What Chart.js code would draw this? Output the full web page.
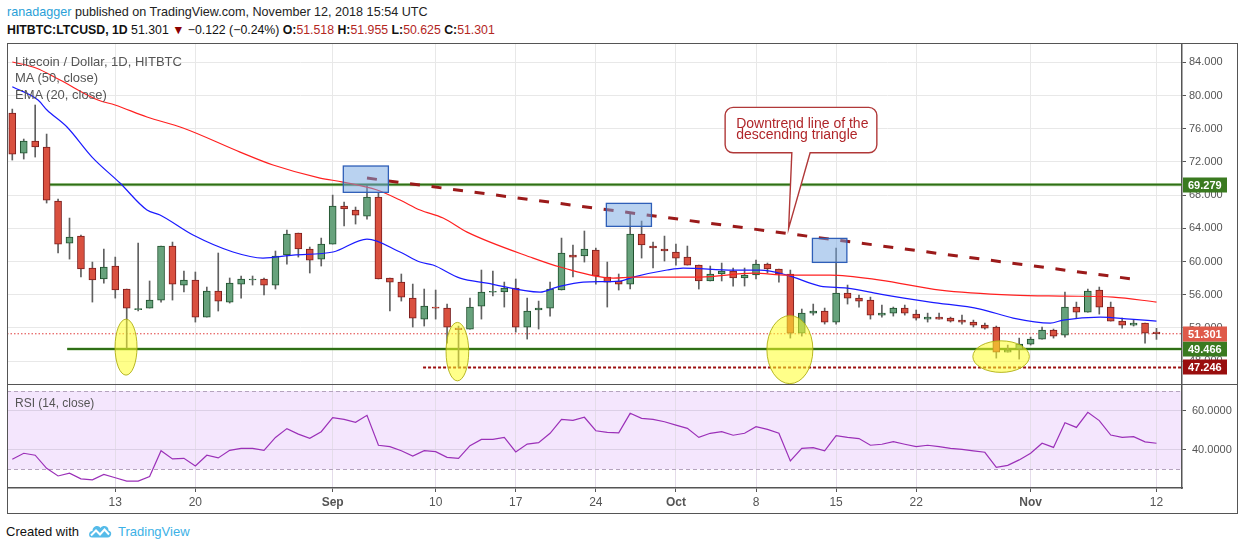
<!DOCTYPE html>
<html><head><meta charset="utf-8">
<script src="https://cdn.jsdelivr.net/npm/chart.js@4.4.0/dist/chart.umd.min.js"></script>
<style>
html,body{margin:0;padding:0;background:#fff;}
#wrap{position:relative;width:1240px;height:550px;overflow:hidden;font-family:'Liberation Sans',Arial,sans-serif;}
.abs{position:absolute;white-space:nowrap;}
canvas{position:absolute;}
#frame{position:absolute;left:7px;top:43px;width:1229px;height:469px;border:1px solid #555;pointer-events:none;}
#sep{position:absolute;left:7px;top:384px;width:1230px;height:1px;background:#555;pointer-events:none;}
.leg{position:absolute;left:15px;font-size:13px;color:#555;line-height:16px;white-space:nowrap;}
.b{font-weight:bold;}
.r{color:#b3261e;}
</style></head>
<body>
<div id="wrap">
  <canvas id="main" width="1230" height="341" style="left:7px;top:43px;width:1230px;height:341px"></canvas>
  <canvas id="rsi" width="1230" height="129" style="left:7px;top:384px;width:1230px;height:129px"></canvas>
  <div id="frame"></div>
  <div id="sep"></div>
  <div class="abs" style="left:7px;top:3px;font-size:12.6px;line-height:18px;color:#222"><span style="color:#2a9fd8">ranadagger</span> published on TradingView.com, November 12, 2018 15:54 UTC</div>
  <div class="abs" style="left:7px;top:21px;font-size:12.3px;line-height:18px;color:#111"><span class="b">HITBTC:LTCUSD, 1D</span> 51.301 <span style="color:#8b0000">&#9660;</span> &minus;0.122 (&minus;0.24%) <span class="b">O:</span><span class="r">51.518</span> <span class="b">H:</span><span class="r">51.955</span> <span class="b">L:</span><span class="r">50.625</span> <span class="b">C:</span><span class="r">51.301</span></div>
  <div class="leg" style="top:54px">Litecoin / Dollar, 1D, HITBTC</div>
  <div class="leg" style="top:70px">MA (50, close)</div>
  <div class="leg" style="top:87px">EMA (20, close)</div>
  <div class="leg" style="top:395px;font-size:12px">RSI (14, close)</div>
  <div class="abs" style="left:6px;top:523px;font-size:13px;line-height:18px;color:#111">Created with</div>
  <svg class="abs" style="left:88px;top:524px" width="24" height="14" viewBox="0 0 24 14">
    <path d="M4 13.5 C0 13.5 0 7 4.5 7 C4.5 1.5 11 0.5 12.5 4 C15 0.5 21 2 20.5 6.5 C24.5 7 24 13.5 19.5 13.5 Z" fill="#55bbe9"/>
    <polyline points="3,11.5 8,6.5 12,10.5 16.5,5.5 21,10.5" stroke="#fff" stroke-width="2" fill="none"/>
  </svg>
  <div class="abs" style="left:118px;top:523px;font-size:13px;line-height:18px;color:#3cb1e6">TradingView</div>
</div>
<script>
// ---------- data ----------
const firstDay = '2018-08-04';
const xTickDays   = [9, 16, 28, 37, 44, 51, 58, 65, 72, 79, 89, 100];
const xTickLabels = ['13','20','Sep','10','17','24','Oct','8','15','22','Nov','12'];
const monthLabels = ['Sep','Oct','Nov'];
const priceTicks  = [48, 52, 56, 60, 64, 68, 72, 76, 80, 84];
const rsiTicks    = [40, 60];

const openP  = [77.89,73.07,74.52,73.80,67.29,62.23,63.07,59.22,57.90,59.46,
  56.69,54.20,54.40,55.36,61.87,57.17,57.78,53.31,56.45,55.12,
  57.29,57.78,57.90,57.17,60.79,63.43,61.51,60.30,62.11,66.69,
  66.21,65.48,67.77,58.02,57.53,55.60,53.07,54.52,54.40,51.99,
  51.87,54.64,56.30,56.33,56.81,52.11,54.16,54.40,56.57,60.79,
  60.67,61.39,58.14,57.66,57.29,63.31,61.87,61.51,61.15,60.54,
  59.58,57.66,58.50,58.86,58.02,58.38,59.70,59.10,58.50,51.38,
  53.79,54.04,52.71,56.21,55.60,55.36,53.55,53.79,54.40,53.67,
  53.07,53.31,53.19,52.95,52.71,52.35,52.11,49.09,49.45,50.06,
  50.66,51.75,51.14,54.52,53.91,56.57,54.52,52.83,52.35,52.59,
  51.518];
const highP  = [78.37,74.76,78.86,75.36,67.53,65.24,63.19,59.94,61.51,60.54,
  56.69,62.23,57.66,61.87,62.35,58.86,58.74,56.93,61.03,58.02,
  58.26,58.26,58.02,61.27,63.80,63.43,61.75,62.83,68.01,67.17,
  66.57,69.22,68.26,58.02,58.50,57.29,56.69,56.57,54.88,52.23,
  55.60,58.98,58.86,57.53,57.90,55.60,55.24,57.53,62.83,61.99,
  63.68,61.63,59.94,58.50,65.73,64.88,62.35,63.07,62.11,61.87,
  59.58,59.46,59.82,59.22,59.22,60.18,59.82,59.10,58.98,54.28,
  54.88,54.40,61.63,57.17,55.97,55.72,54.76,54.52,54.76,54.16,
  53.79,53.79,53.31,53.55,52.95,52.59,52.23,49.94,50.78,50.90,
  52.11,51.87,56.33,55.12,56.69,56.93,55.12,53.19,52.95,52.59,
  51.955];
const lowP   = [72.23,72.35,72.59,67.05,61.03,60.30,58.14,55.12,57.41,55.60,
  49.57,54.04,54.40,55.12,55.36,56.33,52.71,53.31,54.04,55.00,
  55.60,57.17,55.97,56.69,59.70,60.54,58.62,59.46,62.11,64.28,
  64.52,65.12,57.90,54.04,55.24,52.11,52.23,53.07,50.18,47.29,
  51.87,53.07,55.85,54.52,51.50,50.66,51.87,53.43,56.57,58.14,
  59.94,57.29,54.52,56.57,56.69,60.42,59.22,60.06,59.58,59.58,
  56.69,57.66,57.66,57.05,57.05,57.90,58.62,57.53,50.78,51.02,
  53.55,52.47,52.47,54.88,54.52,53.07,53.31,53.43,53.55,52.95,
  52.71,53.07,52.71,52.47,52.11,51.87,48.37,49.09,48.25,49.94,
  50.66,50.78,50.90,53.19,53.91,53.67,52.83,51.99,52.23,50.18,
  50.625];
const closeP = [72.95,74.52,73.80,67.41,62.11,62.95,59.10,57.78,59.34,56.57,
  54.40,54.35,55.36,61.87,57.29,57.78,53.31,56.45,55.24,57.41,
  57.90,57.90,57.17,60.67,63.31,61.51,60.18,62.11,66.69,66.33,
  65.60,67.77,57.90,57.53,55.72,53.19,54.64,54.40,52.11,51.80,
  54.52,56.33,56.40,56.81,52.11,54.04,54.40,56.69,61.03,60.54,
  61.51,58.26,57.53,57.29,63.31,61.99,61.63,61.27,60.42,59.58,
  57.66,58.50,58.86,58.02,58.38,59.70,59.10,58.50,51.38,53.79,
  54.04,52.71,56.21,55.60,55.24,53.55,53.79,54.40,53.79,53.19,
  53.31,53.07,52.83,52.71,52.35,51.99,49.09,49.33,50.06,50.66,
  51.75,51.02,54.52,53.91,56.45,54.52,52.83,52.35,52.59,51.38,
  51.301];

const ma50Days = [0,2.07,4.17,7.49,8.98,11.77,14.92,19.91,22.79,26.9,28.9,31.88,33.89,35.64,37.65,39.75,45.52,47.88,52.51,54.26,60.11,64.74,67.72,71.48,75.85,81.09,87.47,91.84,96.2,100];
const ma50Vals = [84.04,83.32,81.87,79.46,78.86,77.41,76.09,73.19,71.63,70.06,69.58,68.62,67.41,66.21,65.24,63.55,60.42,59.34,58.01,58.13,58.13,58.61,58.37,58.37,57.77,56.57,55.96,55.84,55.72,55.12];
const ema20Days = [0,2.25,3.03,4.78,6.97,9.41,11.77,12.91,15.8,19.29,21.91,24.54,28.03,31.0,33.89,35.64,36.77,39.13,41.49,46.13,47.61,49.89,53.12,54.26,57.23,58.63,63.0,65.36,67.72,70.6,72.96,75.85,80.22,84.59,87.47,90.71,91.84,95.08,97.7,100];
const ema20Vals = [81.06,79.46,78.26,76.21,72.59,69.46,66.21,65.6,63.19,61.15,60.42,60.78,61.15,62.71,61.15,59.94,59.58,58.01,57.41,56.32,56.93,57.53,57.65,58.13,58.98,59.22,58.98,58.98,58.37,57.05,56.81,56.08,55.12,54.28,53.19,52.59,52.95,53.31,53.07,52.83];

const rsiVals = [35.1,38.2,37.2,30.5,26.6,28.0,25.1,24.6,27.4,25.7,
  24.0,24.0,26.3,39.5,35.3,35.6,31.7,37.2,35.8,39.7,
  40.7,40.7,39.7,46.3,50.8,48.0,45.8,49.2,56.4,55.5,
  54.0,57.6,42.3,41.6,39.5,36.8,39.5,39.0,36.1,35.6,
  42.1,45.3,45.3,46.3,38.9,42.9,43.6,48.4,55.5,55.0,
  56.6,49.7,48.9,48.6,58.6,56.0,55.5,54.3,52.6,50.9,
  46.3,48.4,49.2,47.4,48.4,51.8,50.4,48.4,34.3,40.7,
  41.1,39.4,47.2,46.3,45.7,42.3,42.8,44.1,42.8,41.6,
  42.3,41.6,40.7,40.2,39.4,38.7,31.0,32.0,34.8,38.2,
  43.3,41.2,53.8,51.4,59.1,54.9,47.5,46.3,46.7,44.0,
  43.3];

// price levels drawn on the chart
const levelPrices = [69.279, 49.466, 47.246, 51.301];
const levelStartDay = [3.2, 4.8, 35.9, null];

// drawings (in day / price units)
const trendLine = {from:[31.0, 70.06], to:[98.6, 57.77]};
const boxes = [[28.93, 71.51, 32.87, 68.34],[51.92, 67.01, 55.86, 64.24],[69.93, 62.79, 72.94, 59.90]];
const ellipses = [[9.94, 49.69, 0.96, 3.37],[38.9, 49.15, 0.99, 3.52],[67.96, 49.39, 2.01, 4.10],[86.42, 48.55, 2.47, 1.90]];
const callout = {box:[62.3, 78.58, 75.56, 73.11], tail:[68.13, 69.73], tip:[67.85, 64.0], lines:['Downtrend line of the','descending triangle']};

// ---------- view ----------
const dayMin = -0.463, dayMax = 102.23;
const priceMin = 45.25, priceMax = 86.33;
const rsiMin = 20.45, rsiMax = 73.07;

const levelStyle = [
  {color:'#2f6f16', halo:'rgba(110,170,80,0.55)', width:1.8, dash:[], tag:'#3a7a20'},
  {color:'#2f6f16', halo:'rgba(110,170,80,0.55)', width:1.8, dash:[], tag:'#3a7a20'},
  {color:'#9c0f0f', halo:null, width:2, dash:[3,2], tag:'#990e0e'},
  {color:'#e03c3c', halo:null, width:1, dash:[1.5,2], tag:'#df5a4a'}
];

const days = openP.map((_, i) => i);
const isUp = days.map(i => closeP[i] >= openP[i]);
const axisFont = {family:"'Liberation Sans', Arial, sans-serif", size:11};

const mainOverlay = {
  id:'mainOverlay',
  beforeDatasetsDraw(chart){
    const {ctx, chartArea:a, scales:{x, y}} = chart;
    ctx.save();
    ctx.beginPath(); ctx.rect(a.left, a.top, a.width, a.height); ctx.clip();
    levelPrices.forEach((p, k) => {
      const st = levelStyle[k];
      const yy = y.getPixelForValue(p);
      const x0 = levelStartDay[k] == null ? a.left : x.getPixelForValue(levelStartDay[k]);
      if (st.halo){
        ctx.setLineDash([]); ctx.strokeStyle = st.halo; ctx.lineWidth = 3.2;
        ctx.beginPath(); ctx.moveTo(x0, yy); ctx.lineTo(a.right, yy); ctx.stroke();
      }
      ctx.setLineDash(st.dash); ctx.strokeStyle = st.color; ctx.lineWidth = st.width;
      ctx.beginPath(); ctx.moveTo(x0, yy); ctx.lineTo(a.right, yy); ctx.stroke();
    });
    ctx.restore();
  },
  afterDatasetsDraw(chart){
    const {ctx, chartArea:a, scales:{x, y}} = chart;
    ctx.save();
    ctx.beginPath(); ctx.rect(a.left, a.top, a.width, a.height); ctx.clip();
    // trend line
    ctx.setLineDash([10, 11.7]); ctx.lineWidth = 3; ctx.strokeStyle = '#9b1a1a';
    ctx.beginPath();
    ctx.moveTo(x.getPixelForValue(trendLine.from[0]), y.getPixelForValue(trendLine.from[1]));
    ctx.lineTo(x.getPixelForValue(trendLine.to[0]), y.getPixelForValue(trendLine.to[1]));
    ctx.stroke();
    ctx.setLineDash([]);
    // boxes
    boxes.forEach(b => {
      const x0 = x.getPixelForValue(b[0]), y0 = y.getPixelForValue(b[1]);
      const x1 = x.getPixelForValue(b[2]), y1 = y.getPixelForValue(b[3]);
      ctx.fillStyle = 'rgba(115,165,225,0.5)';
      ctx.fillRect(x0, y0, x1 - x0, y1 - y0);
      ctx.strokeStyle = '#2f5fb8'; ctx.lineWidth = 1.3;
      ctx.strokeRect(x0, y0, x1 - x0, y1 - y0);
    });
    // ellipses
    ellipses.forEach(e => {
      const cx = x.getPixelForValue(e[0]), cy = y.getPixelForValue(e[1]);
      const rx = Math.abs(x.getPixelForValue(e[0] + e[2]) - cx);
      const ry = Math.abs(y.getPixelForValue(e[1] + e[3]) - cy);
      ctx.beginPath(); ctx.ellipse(cx, cy, rx, ry, 0, 0, Math.PI * 2);
      ctx.fillStyle = 'rgba(255,255,40,0.55)'; ctx.fill();
      ctx.strokeStyle = 'rgba(175,175,20,0.9)'; ctx.lineWidth = 1; ctx.stroke();
    });
    // callout
    const L = x.getPixelForValue(callout.box[0]), T = y.getPixelForValue(callout.box[1]);
    const R = x.getPixelForValue(callout.box[2]), B = y.getPixelForValue(callout.box[3]);
    const tl = x.getPixelForValue(callout.tail[0]), tr = x.getPixelForValue(callout.tail[1]);
    const tx = x.getPixelForValue(callout.tip[0]), ty = y.getPixelForValue(callout.tip[1]);
    const r = 8;
    ctx.beginPath();
    ctx.moveTo(L + r, T); ctx.lineTo(R - r, T); ctx.arcTo(R, T, R, T + r, r);
    ctx.lineTo(R, B - r); ctx.arcTo(R, B, R - r, B, r);
    ctx.lineTo(tr, B); ctx.lineTo(tx, ty); ctx.lineTo(tl, B);
    ctx.lineTo(L + r, B); ctx.arcTo(L, B, L, B - r, r);
    ctx.lineTo(L, T + r); ctx.arcTo(L, T, L + r, T, r); ctx.closePath();
    ctx.fillStyle = '#fff'; ctx.fill();
    ctx.strokeStyle = '#b03838'; ctx.lineWidth = 1.4; ctx.stroke();
    ctx.fillStyle = '#b0262a'; ctx.font = "14px 'Liberation Sans', Arial, sans-serif";
    ctx.textAlign = 'left'; ctx.textBaseline = 'alphabetic';
    ctx.fillText(callout.lines[0], L + 11, T + 21);
    ctx.fillText(callout.lines[1], L + 11, T + 32);
    ctx.restore();
  },
  afterDraw(chart){
    const {ctx, chartArea:a, scales:{y}} = chart;
    ctx.save();
    levelPrices.forEach((p, k) => {
      const yy = y.getPixelForValue(p);
      ctx.fillStyle = levelStyle[k].tag;
      ctx.fillRect(a.right + 1, Math.round(yy) - 7.5, 44, 15);
      ctx.fillStyle = '#fff';
      ctx.font = "bold 11px 'Liberation Sans', Arial, sans-serif";
      ctx.textAlign = 'left'; ctx.textBaseline = 'middle';
      ctx.fillText(p.toFixed(3), a.right + 6, Math.round(yy) + 0.5);
    });
    ctx.restore();
  }
};

new Chart(document.getElementById('main'), {
  type:'bar',
  data:{ datasets:[
    {type:'line', label:'MA', data: ma50Days.map((d, k) => ({x:d, y:ma50Vals[k]})),
     borderColor:'#ff2020', borderWidth:1.2, pointRadius:0, cubicInterpolationMode:'monotone', tension:0.3, order:0},
    {type:'line', label:'EMA', data: ema20Days.map((d, k) => ({x:d, y:ema20Vals[k]})),
     borderColor:'#1a1aff', borderWidth:1.2, pointRadius:0, cubicInterpolationMode:'monotone', tension:0.3, order:0},
    {label:'body', data: days.map(i => ({x:i, y:[openP[i], closeP[i]]})),
     backgroundColor: days.map(i => isUp[i] ? '#67a27c' : '#d9503f'),
     borderColor: days.map(i => isUp[i] ? '#1e4f2c' : '#7b1d1d'),
     borderWidth:1, borderSkipped:false, barThickness:7, minBarLength:1, grouped:false, order:1},
    {label:'wick', data: days.map(i => ({x:i, y:[lowP[i], highP[i]]})),
     backgroundColor:'#606060', borderWidth:0, barThickness:1, grouped:false, order:2}
  ]},
  options:{
    responsive:false, animation:false, devicePixelRatio:1,
    layout:{padding:0},
    plugins:{legend:{display:false}, tooltip:{enabled:false}},
    scales:{
      x:{type:'linear', min:dayMin, max:dayMax, offset:false,
         grid:{color:'#e8e8e8', drawTicks:false, offset:false}, border:{display:false},
         ticks:{display:false},
         afterBuildTicks: s => { s.ticks = xTickDays.map(v => ({value:v})); },
         afterFit: s => { s.height = 0; s.paddingLeft = 0; s.paddingRight = 0; }},
      y:{type:'linear', position:'right', min:priceMin, max:priceMax,
         grid:{color:'#e8e8e8', tickLength:4, tickColor:'#555'},
         border:{display:true, color:'#555', width:1.5},
         ticks:{color:'#555', font:axisFont, padding:3, callback: v => Number(v).toFixed(3)},
         afterBuildTicks: s => { s.ticks = priceTicks.map(v => ({value:v})); },
         afterFit: s => { s.width = 55; s.paddingTop = 0; s.paddingBottom = 0; }}
    }
  },
  plugins:[mainOverlay]
});

const rsiBand = {
  id:'rsiBand',
  beforeDraw(chart){
    const {ctx, chartArea:a, scales:{y}} = chart;
    const t = y.getPixelForValue(70), b = y.getPixelForValue(30);
    ctx.save(); ctx.fillStyle = '#f4e6fd'; ctx.fillRect(a.left, t, a.width, b - t); ctx.restore();
  },
  beforeDatasetsDraw(chart){
    const {ctx, chartArea:a, scales:{y}} = chart;
    ctx.save(); ctx.setLineDash([4,3]); ctx.strokeStyle = '#b4a3bd'; ctx.lineWidth = 1;
    [70, 30].forEach(v => {
      const yy = Math.round(y.getPixelForValue(v)) + 0.5;
      ctx.beginPath(); ctx.moveTo(a.left, yy); ctx.lineTo(a.right, yy); ctx.stroke();
    });
    ctx.restore();
  }
};

new Chart(document.getElementById('rsi'), {
  type:'line',
  data:{ datasets:[
    {label:'RSI', data: days.map(i => ({x:i, y:rsiVals[i]})), borderColor:'#9b30b8', borderWidth:1.2, pointRadius:0, tension:0}
  ]},
  options:{
    responsive:false, animation:false, devicePixelRatio:1,
    layout:{padding:{top:1}},
    plugins:{legend:{display:false}, tooltip:{enabled:false}},
    scales:{
      x:{type:'linear', min:dayMin, max:dayMax, offset:false,
         grid:{color:'#e4dce9', tickLength:4, tickColor:'#555'},
         border:{display:true, color:'#555', width:1.5},
         ticks:{color:'#555', padding:3, maxRotation:0, autoSkip:false,
                font: c => ({family:"'Liberation Sans', Arial, sans-serif", size:12,
                             weight: monthLabels.includes(xTickLabels[c.index]) ? 'bold' : 'normal'}),
                callback: (v, i) => xTickLabels[i]},
         afterBuildTicks: s => { s.ticks = xTickDays.map(v => ({value:v})); },
         afterFit: s => { s.height = 25; s.paddingLeft = 0; s.paddingRight = 0; }},
      y:{type:'linear', position:'right', min:rsiMin, max:rsiMax,
         grid:{color:'#dcd0e6', tickLength:4, tickColor:'#555'},
         border:{display:true, color:'#555', width:1.5},
         ticks:{color:'#555', font:axisFont, padding:6, callback: v => Number(v).toFixed(4)},
         afterBuildTicks: s => { s.ticks = rsiTicks.map(v => ({value:v})); },
         afterFit: s => { s.width = 55; s.paddingTop = 0; s.paddingBottom = 0; }}
    }
  },
  plugins:[rsiBand]
});
</script>
</body></html>
